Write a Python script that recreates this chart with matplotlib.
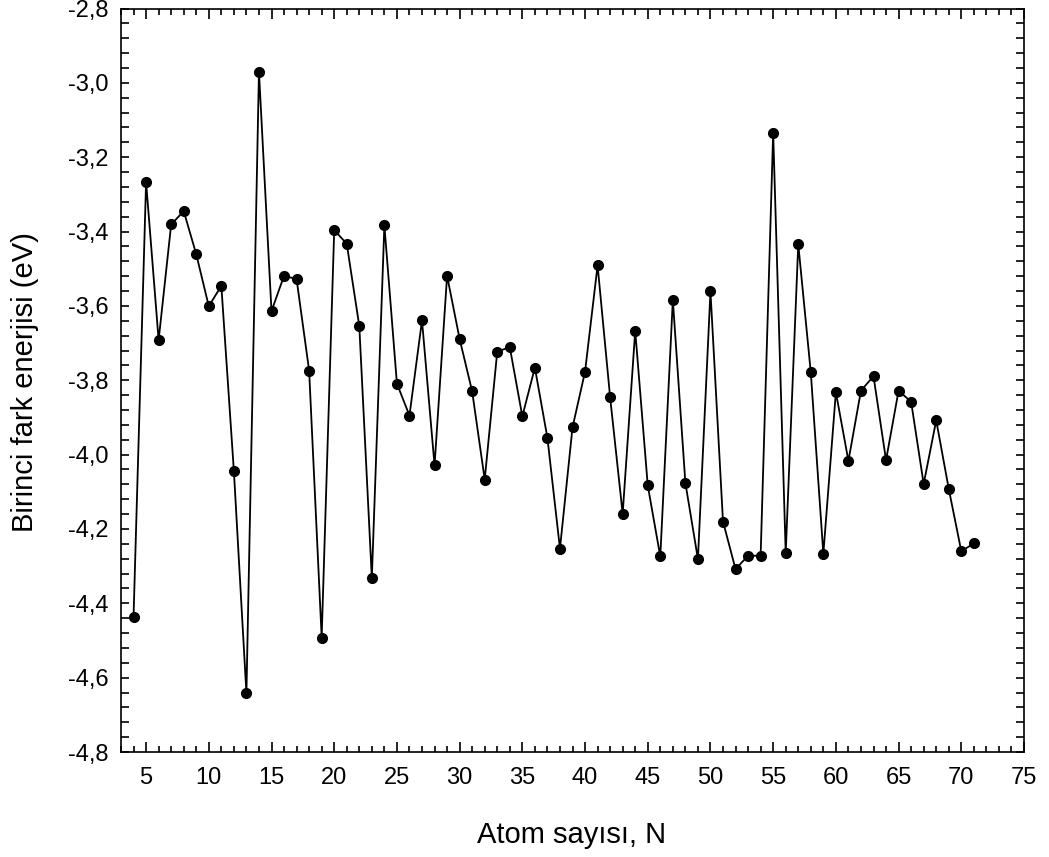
import matplotlib
matplotlib.use("Agg")
import matplotlib.pyplot as plt
from matplotlib.ticker import MultipleLocator, FuncFormatter

plt.rcParams['font.family'] = ['Liberation Sans', 'DejaVu Sans']

# atom sayisi ve birinci fark enerjisi (eV)
N = list(range(4, 72))
E = [-4.436, -3.267, -3.692, -3.381, -3.345, -3.461, -3.601, -3.546, -4.044, -4.642,
     -2.970, -3.614, -3.519, -3.528, -3.774, -4.492, -3.396, -3.433, -3.654, -4.332,
     -3.383, -3.809, -3.895, -3.639, -4.029, -3.519, -3.689, -3.830, -4.067, -3.723,
     -3.711, -3.897, -3.766, -3.955, -4.253, -3.927, -3.777, -3.491, -3.846, -4.159,
     -3.667, -4.083, -4.274, -3.584, -4.076, -4.281, -3.561, -4.180, -4.308, -4.272,
     -4.272, -3.134, -4.265, -3.434, -3.779, -4.267, -3.832, -4.017, -3.828, -3.789,
     -4.015, -3.828, -3.858, -4.079, -3.908, -4.092, -4.260, -4.239]

x_label = "Atom sayısı, N"
y_label = "Birinci fark enerjisi (eV)"

fig = plt.figure(figsize=(10.49, 8.57), dpi=100)
ax = fig.add_axes([121/1049, 1 - 752/857, (1024-121)/1049, (752-8.5)/857])

ax.plot(N, E, color='black', lw=1.3, marker='o', ms=7, mfc='black', mec='black')

ax.set_xlim(3, 75)
ax.set_ylim(-4.8, -2.8)
ax.xaxis.set_major_locator(MultipleLocator(5))
ax.xaxis.set_minor_locator(MultipleLocator(1))
ax.yaxis.set_major_locator(MultipleLocator(0.2))
ax.yaxis.set_minor_locator(MultipleLocator(0.04))
ax.xaxis.set_major_formatter(FuncFormatter(lambda v, p: "%d" % v if v > 3 else ""))
ax.yaxis.set_major_formatter(FuncFormatter(lambda v, p: ("%.1f" % v).replace('.', ',')))

ax.tick_params(which='both', direction='in', top=True, right=True, width=1.2, labelsize=17)
ax.tick_params(axis='x', which='major', length=7, pad=11)
ax.tick_params(axis='x', which='minor', length=4.3)
ax.tick_params(axis='y', which='major', length=6, pad=9)
ax.tick_params(axis='y', which='minor', length=5.5)
for s in ax.spines.values():
    s.set_linewidth(1.2)

fig.text(572/1049, 1 - 843/857, x_label, fontsize=21, ha='center', va='baseline')
fig.text(25/1049, 1 - 382/857, y_label, fontsize=21, rotation=90, ha='center', va='center')

fig.savefig("out.png", dpi=100)
